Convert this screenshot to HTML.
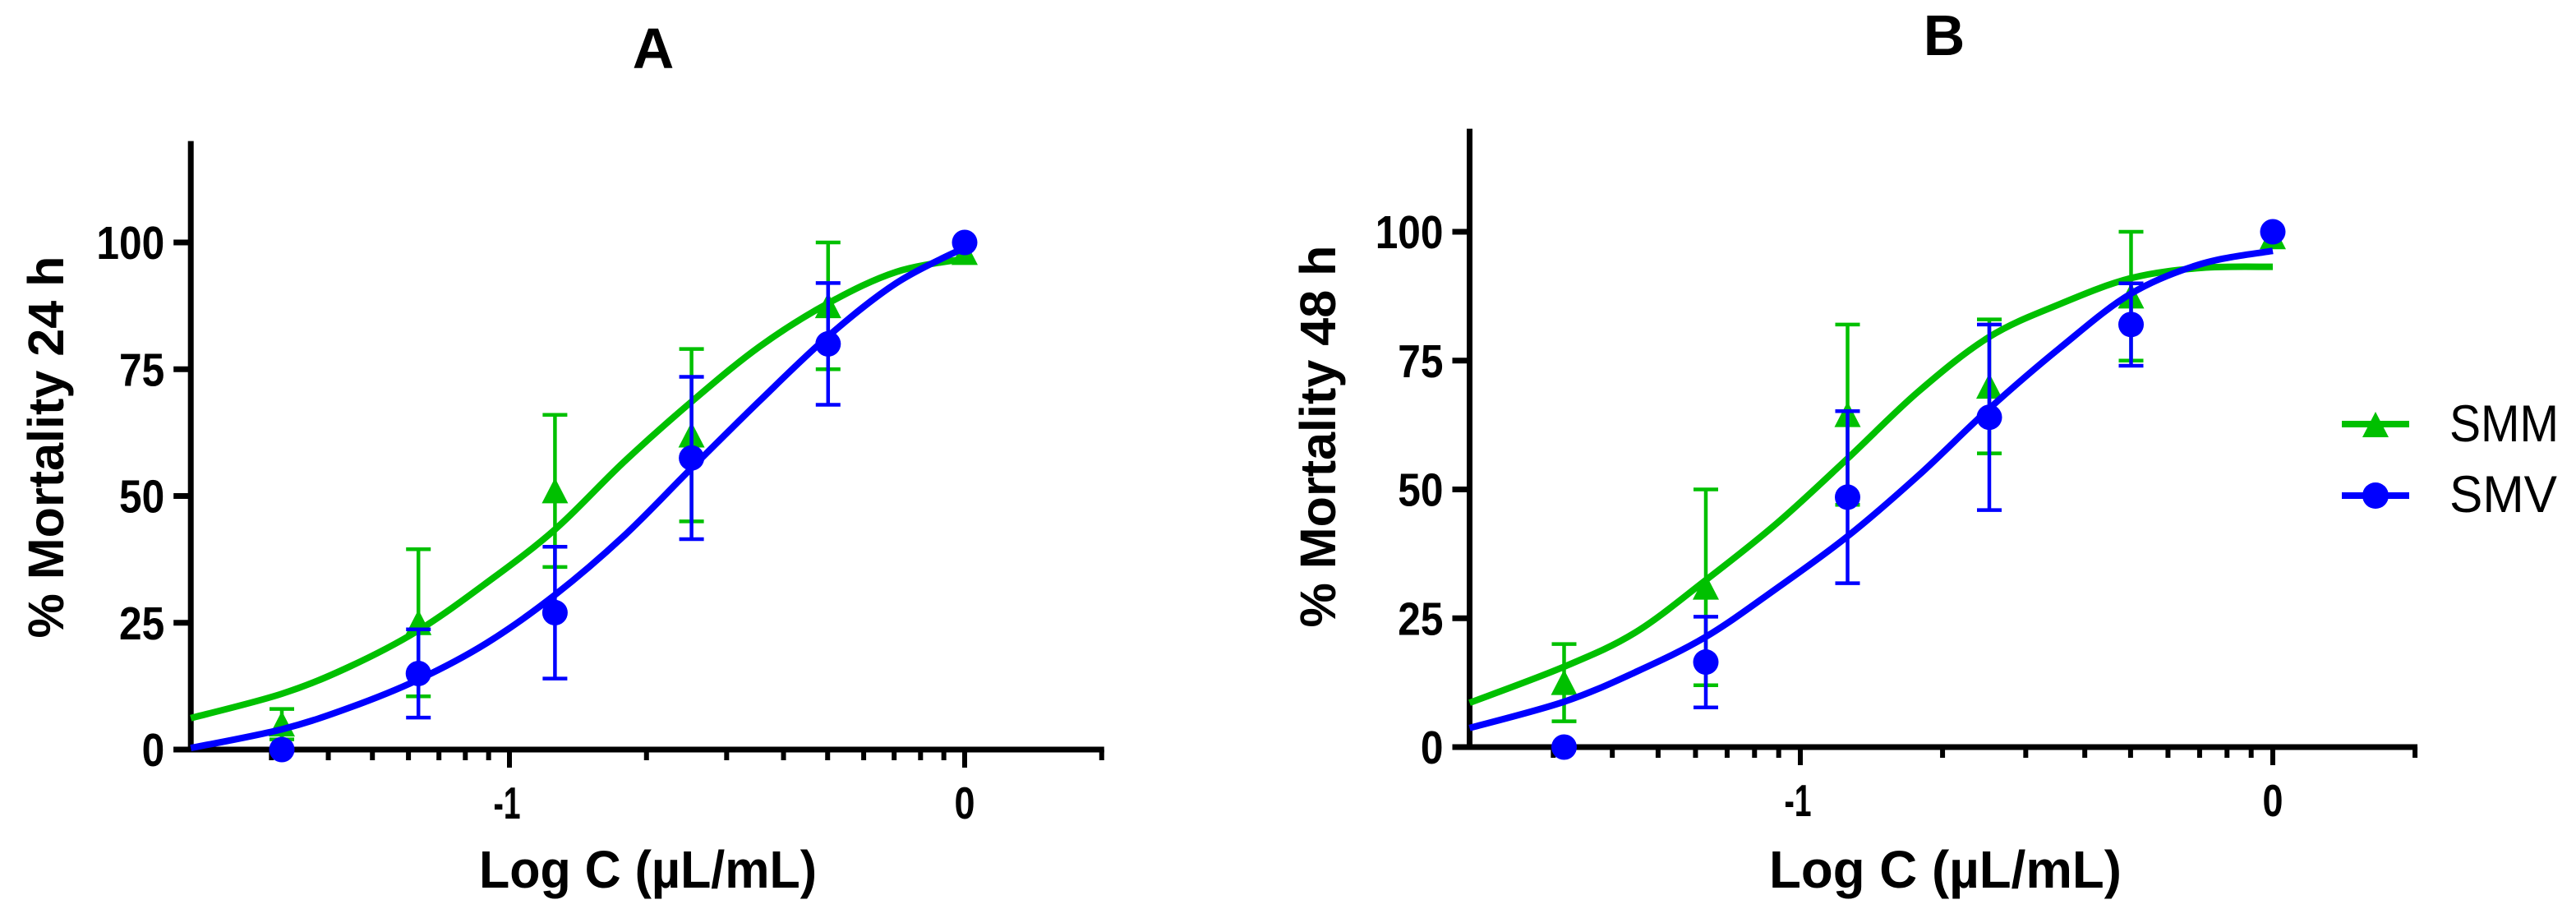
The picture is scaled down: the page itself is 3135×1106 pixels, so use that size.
<!DOCTYPE html>
<html><head><meta charset="utf-8">
<style>
html,body{margin:0;padding:0;background:#fff;}
svg{display:block;}
text{font-family:"Liberation Sans Narrow","Liberation Sans",Arial,sans-serif;}
</style></head>
<body>
<svg id="fig" width="3135" height="1106" viewBox="0 0 3135 1106" xmlns="http://www.w3.org/2000/svg">
  <rect width="3135" height="1106" fill="#fff"/>
  <g id="panelA"></g>
  <g id="panelB"></g>
  <g id="legend">
    <g>
      <line x1="2850" y1="516" x2="2932" y2="516" stroke="#00C000" stroke-width="8"/>
      <polygon points="2891,501 2907,532 2875,532" fill="#00C000"/>
      <text x="2981" y="537" font-size="63" textLength="133" lengthAdjust="spacingAndGlyphs" fill="#000">SMM</text>
    </g>
    <g>
      <line x1="2850" y1="603" x2="2932" y2="603" stroke="#0000FF" stroke-width="8"/>
      <circle cx="2891" cy="603" r="16" fill="#0000FF"/>
      <text x="2981" y="623" font-size="63" textLength="131" lengthAdjust="spacingAndGlyphs" fill="#000">SMV</text>
    </g>
  </g>
</svg>
<script>
// ---- data ----
const doseLog = [-1.5, -1.2, -0.9, -0.6, -0.3, 0];
const aSmmMean = [5, 25, 51, 62, 87.5, 98];
const aSmmSd   = [3, 14.5, 15, 17, 12.5, 0];
const aSmvMean = [0, 15, 27, 57.5, 80, 100];
const aSmvSd   = [0, 8.7, 13, 16, 12, 0];
const bSmmMean = [12.5, 31, 64.5, 70, 87.5, 99];
const bSmmSd   = [7.5, 19, 17.5, 13, 12.5, 0];
const bSmvMean = [0, 16.5, 48.5, 64, 82, 100];
const bSmvSd   = [0, 8.8, 16.7, 18, 8, 0];
// fitted curve samples
const curveX    = [-1.7, -1.5, -1.35, -1.2, -1.05, -0.9, -0.75, -0.6, -0.45, -0.3, -0.15, 0];
const aSmmCurve = [6.2, 11, 16.4, 23.5, 32.9, 43.4, 56.6, 68.6, 79.5, 88, 94.2, 96.8];
const aSmvCurve = [0.3, 4, 8.3, 13.8, 21, 30.5, 42, 55.5, 68.8, 81.5, 92, 99];
const bSmmCurve = [8.6, 15.6, 22.2, 32.4, 43.4, 56, 69, 79.6, 86, 91, 93, 93.2];
const bSmvCurve = [3.7, 8.8, 14.5, 21.4, 30.8, 40.9, 52.7, 65.7, 77.5, 88, 93.8, 96.3];
const yTicks = [0, 25, 50, 75, 100];
const yTickLabels = ["0", "25", "50", "75", "100"];
const xMajor = [-1, 0];
const xMajorLabels = ["-1", "0"];
const xMin = -1.7, xMax = 0.301, yMax = 120;

const NS = "http://www.w3.org/2000/svg";
const GREEN = "#00C000", BLUE = "#0000FF";
function mk(tag, attrs, parent) {
  const e = document.createElementNS(NS, tag);
  for (const k in attrs) e.setAttribute(k, attrs[k]);
  parent.appendChild(e);
  return e;
}

function drawPanel(g, cfg) {
  const xs = v => cfg.xm1 + (v + 1) * cfg.dec;
  const ys = v => cfg.y0 - v * cfg.yk;
  const xL = xs(xMin), xR = xs(xMax);

  // title
  const t = mk("text", {x: cfg.titleX, y: cfg.titleY, "font-size": 70, "font-weight": "bold", "text-anchor": "middle", style: "font-family:'Liberation Sans',Arial,sans-serif"}, g);
  t.textContent = cfg.title;
  
  

  // axes
  const yAxis = mk("line", {x1: xL, y1: ys(yMax), x2: xL, y2: cfg.y0 + 3.5, stroke: "#000", "stroke-width": 7}, g);
  
  
  const xAxis = mk("line", {x1: xL - 21, y1: cfg.y0, x2: xR + 3, y2: cfg.y0, stroke: "#000", "stroke-width": 7}, g);
  
  

  // y ticks
  yTicks.forEach((v, i) => {
    const y = ys(v);
    const tk = mk("line", {x1: xL - 21, y1: y, x2: xL, y2: y, stroke: "#000", "stroke-width": 7}, g);
    
    
    const lbl = yTickLabels[i];
    const tl = mk("text", {x: xL - 32, y: y + 20, "font-size": 57, "font-weight": "bold", "text-anchor": "end", textLength: 27.6 * lbl.length, lengthAdjust: "spacingAndGlyphs"}, g);
    tl.textContent = lbl;
    
    
  });

  // x minor ticks (log scale)
  const minorVals = [0.03,0.04,0.05,0.06,0.07,0.08,0.09,0.2,0.3,0.4,0.5,0.6,0.7,0.8,0.9,2];
  minorVals.forEach(m => {
    const x = xs(Math.log10(m));
    if (x > xR + 5) return;
    const tk = mk("line", {x1: x, y1: cfg.y0, x2: x, y2: cfg.y0 + 13, stroke: "#000", "stroke-width": 6}, g);
    
    
  });
  xMajor.forEach((v, i) => {
    const x = xs(v);
    const tk = mk("line", {x1: x, y1: cfg.y0, x2: x, y2: cfg.y0 + 22, stroke: "#000", "stroke-width": 6}, g);
    
    
    const lbl = xMajorLabels[i];
    const tl = mk("text", {x: x + (lbl.length > 1 ? -3 : 0), y: cfg.y0 + 84, "font-size": 55, "font-weight": "bold", "text-anchor": "middle", textLength: lbl.length > 1 ? 33 : 25, lengthAdjust: "spacingAndGlyphs"}, g);
    tl.textContent = lbl;
    
    
  });

  // axis titles
  const xt = mk("text", {x: cfg.xTitleX, y: 1080, "font-size": 64, "font-weight": "bold", textLength: cfg.xTitleW, lengthAdjust: "spacingAndGlyphs"}, g);
  xt.textContent = "Log C (\u00B5L/mL)";
  
  
  const yt = mk("text", {x: 0, y: 0, "font-size": 61, "font-weight": "bold", "text-anchor": "middle", textLength: 465, lengthAdjust: "spacingAndGlyphs", style: "font-family:'Liberation Sans',Arial,sans-serif", transform: `translate(${cfg.yTitleX},${cfg.yTitleY}) rotate(-90)`}, g);
  yt.textContent = cfg.yTitle;
  
  

  // series
  cfg.series.forEach(s => {
    const sg = mk("g", {}, g);
    
    
    // curve (Catmull-Rom)
    const P = curveX.map((cx, i) => [xs(cx), ys(s.curve[i])]);
    let d = `M${P[0][0]},${P[0][1]}`;
    for (let i = 0; i < P.length - 1; i++) {
      const p0 = P[Math.max(0, i - 1)], p1 = P[i], p2 = P[i + 1], p3 = P[Math.min(P.length - 1, i + 2)];
      const c1 = [p1[0] + (p2[0] - p0[0]) / 6, p1[1] + (p2[1] - p0[1]) / 6];
      const c2 = [p2[0] - (p3[0] - p1[0]) / 6, p2[1] - (p3[1] - p1[1]) / 6];
      d += ` C${c1[0]},${c1[1]} ${c2[0]},${c2[1]} ${p2[0]},${p2[1]}`;
    }
    const path = mk("path", {d: d, fill: "none", stroke: s.color, "stroke-width": 8, "stroke-linecap": "butt"}, sg);
    
    
    // error bars + markers
    doseLog.forEach((xv, i) => {
      const x = xs(xv), m = s.mean[i], sd = s.sd[i];
      if (sd > 0) {
        const eb = mk("g", {stroke: s.color, "stroke-width": 4.5}, sg);
        
        
        mk("line", {x1: x, y1: ys(m + sd), x2: x, y2: ys(m - sd)}, eb);
        mk("line", {x1: x - 15, y1: ys(m + sd), x2: x + 15, y2: ys(m + sd)}, eb);
        mk("line", {x1: x - 15, y1: ys(m - sd), x2: x + 15, y2: ys(m - sd)}, eb);
      }
      const y = ys(m);
      let mark;
      if (s.shape === "tri") {
        mark = mk("polygon", {points: `${x},${y - 16} ${x + 16},${y + 15} ${x - 16},${y + 15}`, fill: s.color}, sg);
      } else {
        mark = mk("circle", {cx: x, cy: y, r: 15.5, fill: s.color}, sg);
      }
      
      
    });
  });
}

drawPanel(document.getElementById("panelA"), {
  xm1: 620, dec: 554, y0: 912, yk: 6.17, title: "A", titleX: 795, titleY: 83,
  xTitleX: 583, xTitleW: 411, yTitle: "% Mortality 24 h", yTitleX: 77, yTitleY: 544,
  series: [
    {name: "smm", color: GREEN, shape: "tri", mean: aSmmMean, sd: aSmmSd, curve: aSmmCurve},
    {name: "smv", color: BLUE, shape: "circ", mean: aSmvMean, sd: aSmvSd, curve: aSmvCurve}
  ]
});
drawPanel(document.getElementById("panelB"), {
  xm1: 2191, dec: 575, y0: 909, yk: 6.27, title: "B", titleX: 2366, titleY: 67,
  xTitleX: 2153, xTitleW: 429, yTitle: "% Mortality 48 h", yTitleX: 1625, yTitleY: 531,
  series: [
    {name: "smm", color: GREEN, shape: "tri", mean: bSmmMean, sd: bSmmSd, curve: bSmmCurve},
    {name: "smv", color: BLUE, shape: "circ", mean: bSmvMean, sd: bSmvSd, curve: bSmvCurve}
  ]
});
</script>
</body></html>
